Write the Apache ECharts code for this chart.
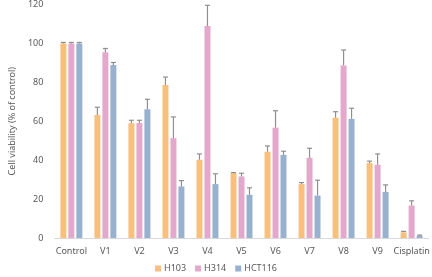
<!DOCTYPE html>
<html>
<head>
<meta charset="utf-8">
<script src="https://cdn.jsdelivr.net/npm/echarts@6/dist/echarts.min.js"></script>
<style>
  html, body { margin: 0; padding: 0; background: #fff; }
  #chart { width: 432px; height: 277px; }
</style>
</head>
<body>
<div id="chart"></div>
<script>
  var categories = ['Control', 'V1', 'V2', 'V3', 'V4', 'V5', 'V6', 'V7', 'V8', 'V9', 'Cisplatin']
  var seriesNames = ['H103', 'H314', 'HCT116']
  var h103 = [100, 63.2, 59, 78.6, 40.2, 33.3, 44.3, 27.7, 61.8, 38.5, 2.9]
  var h314 = [100, 95.4, 59.1, 51.3, 108.9, 31.6, 56.7, 41.2, 88.7, 37.6, 16.7]
  var hct116 = [100, 88.9, 66.2, 26.5, 27.7, 22.2, 42.7, 21.8, 61.2, 23.7, 1.2]
  // upper end of the error bar
  var h103Err = [100.5, 67.2, 60.5, 82.7, 43.2, 33.6, 47.3, 28.5, 64.9, 39.5, 3.4]
  var h314Err = [100.5, 97.4, 60.5, 62.2, 119.6, 33.3, 65.4, 46.1, 96.6, 43.2, 19.1]
  var hct116Err = [100.5, 90.2, 71.3, 29.5, 33, 25.8, 44.6, 29.7, 66.7, 27.3, 1.5]
  var yTicks = { min: 0, max: 120, interval: 20 }

  var colors = ['#F8C07C', '#E3A8CB', '#97B1CF']
  var values = [h103, h314, hct116]
  var errs = [h103Err, h314Err, hct116Err]

  function errSeries (idx) {
    var data = categories.map(function (c, i) { return [i, values[idx][i], errs[idx][i]] })
    return {
      type: 'custom',
      name: seriesNames[idx] + ' err',
      z: 5,
      silent: true,
      renderItem: function (params, api) {
        var base = api.coord([api.value(0), api.value(1)])
        var top = api.coord([api.value(0), api.value(2)])
        var x = base[0] + (idx - 1) * 8
        var style = { stroke: '#8f8f8f', lineWidth: 1.2 }
        return {
          type: 'group',
          children: [
            { type: 'line', shape: { x1: x, y1: base[1], x2: x, y2: top[1] }, style: style },
            { type: 'line', shape: { x1: x - 2.5, y1: top[1], x2: x + 2.5, y2: top[1] }, style: style }
          ]
        }
      },
      data: data
    }
  }

  var series = []
  seriesNames.forEach(function (name, idx) {
    series.push({
      name: name,
      type: 'bar',
      barWidth: 6,
      barGap: '33%',
      itemStyle: { color: colors[idx] },
      data: values[idx]
    })
  })
  seriesNames.forEach(function (name, idx) {
    series.push(errSeries(idx))
  })

  var chart = echarts.init(document.getElementById('chart'))
  chart.setOption({
    animation: false,
    textStyle: { fontFamily: 'Noto Sans', color: '#595959' },
    grid: { left: 39, right: 1, top: 4, bottom: 39 },
    legend: {
      data: seriesNames,
      top: 262,
      left: 'center',
      padding: [2, 5, 0, 5],
      icon: 'rect',
      itemWidth: 6,
      itemHeight: 6,
      itemGap: 9,
      textStyle: { fontSize: 9, color: '#595959', padding: [0, 0, 0, -2] }
    },
    xAxis: {
      type: 'category',
      data: categories,
      axisLine: { lineStyle: { color: '#d9d9d9' } },
      axisTick: { show: false },
      axisLabel: { fontSize: 9, color: '#595959', margin: 9, interval: 0 }
    },
    yAxis: {
      type: 'value',
      min: yTicks.min,
      max: yTicks.max,
      interval: yTicks.interval,
      name: 'Cell viability (% of control)',
      nameLocation: 'middle',
      nameGap: 29,
      nameTextStyle: { fontSize: 9, color: '#595959' },
      splitLine: { show: false },
      axisLine: { show: false },
      axisTick: { show: false },
      axisLabel: { fontSize: 9, color: '#595959', margin: 11 }
    },
    series: series
  })
</script>
</body>
</html>
